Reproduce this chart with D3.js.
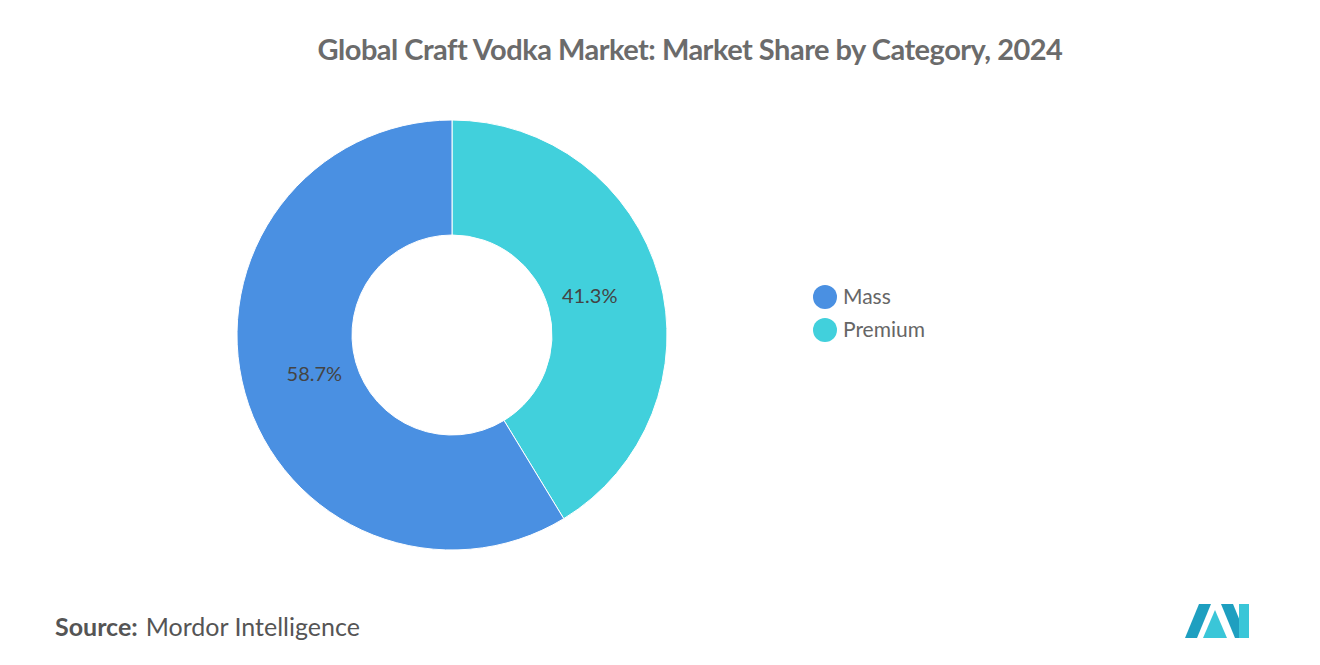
<!DOCTYPE html>
<html><head><meta charset="utf-8">
<script src="https://cdn.jsdelivr.net/npm/d3@7"></script>
<style>body{margin:0;background:#fff;font-family:Lato,"Open Sans",sans-serif}</style>
</head><body>
<svg id="c" width="1320" height="665"></svg>
<script>
const categories = ["Premium", "Mass"];
const shares = [41.3, 58.7];
const colors = ["#41d0dc", "#4a90e2"];
const legendOrder = ["Mass", "Premium"];

const svg = d3.select("#c");
svg.append("text").attr("x", 690).attr("y", 60).attr("text-anchor", "middle")
  .attr("font-size", 29).attr("font-weight", 700).attr("fill", "#6b6b6b")
  .attr("letter-spacing", -0.5)
  .text("Global Craft Vodka Market: Market Share by Category, 2024");

const color = d3.scaleOrdinal().domain(categories).range(colors);
const pie = d3.pie().sort(null).value(d => d.v);
const data = pie(categories.map((c, i) => ({c, v: shares[i]})));
const arc = d3.arc().innerRadius(100).outerRadius(215);
const lab = d3.arc().innerRadius(143).outerRadius(143);
const g = svg.append("g").attr("transform", "translate(452,335)");
g.selectAll("path").data(data).join("path").attr("d", arc)
  .attr("fill", d => color(d.data.c)).attr("stroke", "#fff").attr("stroke-width", 1);
g.selectAll("text").data(data).join("text")
  .attr("transform", d => `translate(${lab.centroid(d)})`)
  .attr("text-anchor", "middle").attr("dy", "0.35em")
  .attr("font-size", 20).attr("fill", "#444")
  .text(d => d.data.v.toFixed(1) + "%");

const lg = svg.append("g");
legendOrder.forEach((c, i) => {
  lg.append("circle").attr("cx", 825).attr("cy", 297 + i * 33).attr("r", 12).attr("fill", color(c));
  lg.append("text").attr("x", 843).attr("y", 297 + i * 33).attr("dy", "0.35em")
    .attr("font-size", 21).attr("fill", "#666").text(c);
});

const src = svg.append("text").attr("x", 55).attr("y", 636).attr("font-size", 25).attr("fill", "#555");
src.append("tspan").attr("font-weight", 700).text("Source:");
src.append("tspan").attr("dx", 8).text("Mordor Intelligence");

const logo = svg.append("g").attr("transform", "translate(1185,604)");
logo.append("polygon").attr("points", "0,34 14,0 26,0 12,34").attr("fill", "#1e9fc0");
logo.append("polygon").attr("points", "18,34 30,6 42,34").attr("fill", "#3ac6d8");
logo.append("polygon").attr("points", "36,0 48,0 62,34 50,34").attr("fill", "#1e9fc0");
logo.append("rect").attr("x", 54).attr("y", 0).attr("width", 10).attr("height", 34).attr("fill", "#3ac6d8");
</script>
</body></html>
